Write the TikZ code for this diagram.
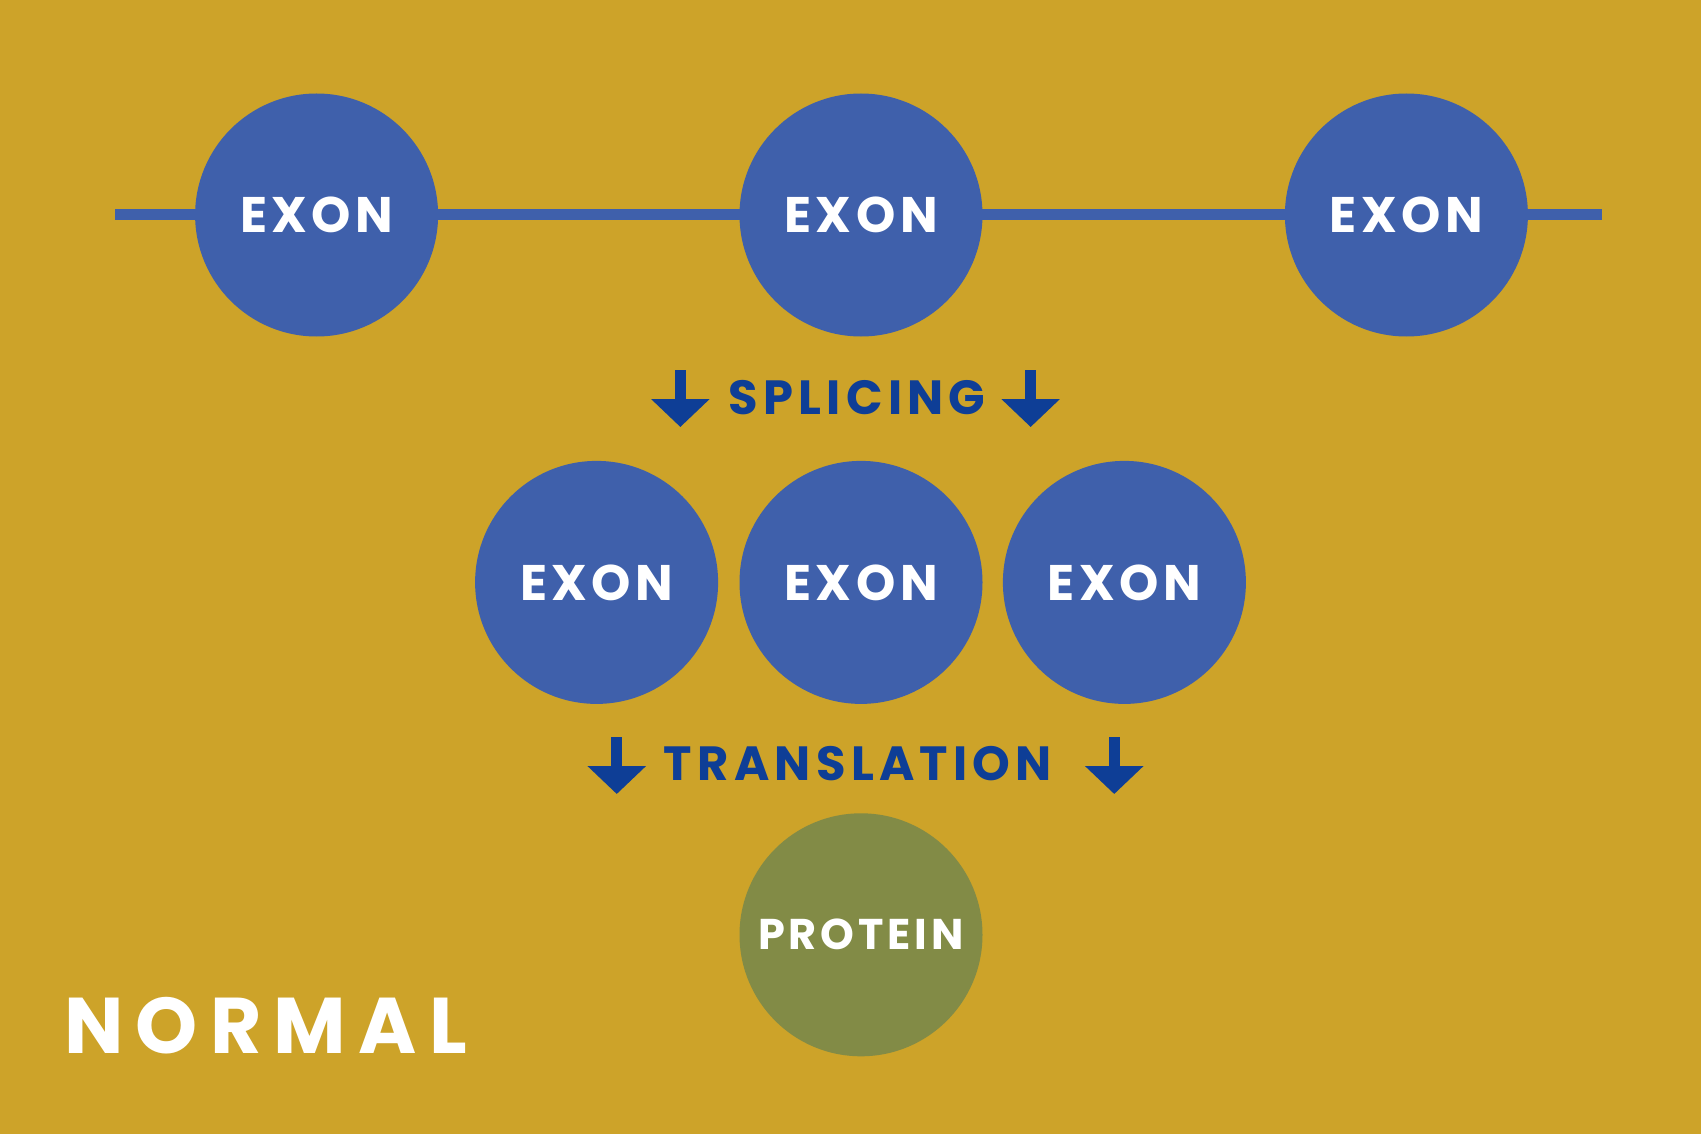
\documentclass[tikz,border=0pt]{standalone}
\usepackage{fontspec}
\usepackage{tikz}
\usetikzlibrary{arrows.meta, positioning}

\newfontfamily\exonfont{Poppins}[LetterSpace=9]
\newfontfamily\stepfont{Poppins}[LetterSpace=11]
\newfontfamily\titlefont{Poppins}[LetterSpace=15.5]

\definecolor{mustard}{RGB}{205,163,41}
\definecolor{exonblue}{RGB}{63,96,171}
\definecolor{labelblue}{RGB}{14,62,150}
\definecolor{proteingreen}{RGB}{130,139,70}

\begin{document}
\begin{tikzpicture}[x=1pt, y=-1pt,
    exon/.style={circle, fill=exonblue, text=white, minimum size=243pt, inner sep=0pt, font=\exonfont\bfseries\fontsize{50}{50}\selectfont},
    protein/.style={exon, fill=proteingreen, font=\exonfont\bfseries\fontsize{43}{43}\selectfont},
    steplabel/.style={text=labelblue, inner sep=0pt, font=\stepfont\bfseries\fontsize{48}{48}\selectfont},
    title/.style={text=white, inner sep=0pt, font=\titlefont\bfseries\fontsize{79}{79}\selectfont},
    strand/.style={draw=exonblue, line width=11pt},
    downarrow/.style={draw=labelblue, line width=11pt, -{Triangle[width=57pt, length=28pt]}}]

    % Background
    \fill[mustard] (0,0) rectangle (1701,1134);

    % Pre-mRNA strand
    \coordinate (strand start) at (115,215);
    \coordinate (strand end) at (1602,215);
    \path[strand] (strand start) -- (strand end);

    % Exons before splicing
    \node[exon] (exon2) at (861,215) {EXON};
    \node[exon, left=301pt of exon2] (exon1) {EXON};
    \node[exon, right=302pt of exon2] (exon3) {EXON};

    % Splicing
    \node[steplabel] (splicing) at (857,398) {SPLICING};
    \draw[downarrow] ([shift={(-48,-28)}]splicing.west) -- +(0,57);
    \draw[downarrow] ([shift={(45,-28)}]splicing.east) -- +(0,57);

    % Spliced mRNA
    \node[exon, below=124pt of exon2] (mrna2) {EXON};
    \node[exon, left=21pt of mrna2] (mrna1) {EXON};
    \node[exon, right=20pt of mrna2] (mrna3) {EXON};

    % Translation
    \node[steplabel] (translation) at (858,764) {TRANSLATION};
    \draw[downarrow] ([shift={(-47,-27)}]translation.west) -- +(0,57);
    \draw[downarrow] ([shift={(62,-27)}]translation.east) -- +(0,57);

    % Protein
    \node[protein, below=109pt of mrna2] (protein) {PROTEIN};

    % Label
    \node[title, anchor=base west] (normal) at (64,1053) {NORMAL};

\end{tikzpicture}
\end{document}
